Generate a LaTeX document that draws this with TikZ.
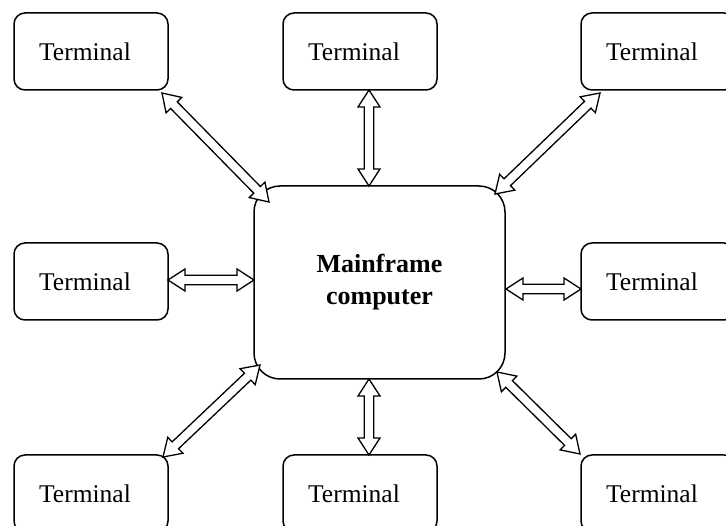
\documentclass[tikz,border=0pt]{standalone}
\usepackage{fontspec}
\setmainfont{Liberation Serif}
\usetikzlibrary{calc}
\tikzset{
  term/.style={draw, line width=1.5pt, rounded corners=11pt, minimum width=154pt, minimum height=77pt, inner sep=0pt, font=\fontsize{25.5}{30}\selectfont},
  mainbox/.style={draw, line width=1.5pt, rounded corners=26pt, minimum width=251pt, minimum height=193pt, inner sep=0pt, align=center, font=\fontsize{26}{32}\selectfont\bfseries},
  arr/.style={draw, line width=1.3pt, fill=white, line join=miter}
}
\newcommand\dblarrow[2]{%
  \draw[arr] (#1)
   -- ($(#1)!17pt!(#2)!11pt!90:(#2)$)
   -- ($(#1)!17pt!(#2)!4.7pt!90:(#2)$)
   -- ($(#2)!17pt!(#1)!4.7pt!-90:(#1)$)
   -- ($(#2)!17pt!(#1)!11pt!-90:(#1)$)
   -- (#2)
   -- ($(#2)!17pt!(#1)!11pt!90:(#1)$)
   -- ($(#2)!17pt!(#1)!4.7pt!90:(#1)$)
   -- ($(#1)!17pt!(#2)!4.7pt!-90:(#2)$)
   -- ($(#1)!17pt!(#2)!11pt!-90:(#2)$)
   -- cycle;}
\begin{document}
\begin{tikzpicture}[x=1pt,y=-1pt]
\clip (0,0) rectangle (726,526);
\fill[white] (0,0) rectangle (726,526);
\node[mainbox] (main) at (379.5,282.5) {Mainframe\\computer};
\node[term] (tl) at (91,51.5) {\hspace*{-12pt}Terminal};
\node[term] (tc) at (360,51.5) {\hspace*{-12pt}Terminal};
\node[term] (tr) at (658,51.5) {\hspace*{-12pt}Terminal};
\node[term] (ml) at (91,281.5) {\hspace*{-12pt}Terminal};
\node[term] (mr) at (658,281.5) {\hspace*{-12pt}Terminal};
\node[term] (bl) at (91,493.5) {\hspace*{-12pt}Terminal};
\node[term] (bc) at (360,493.5) {\hspace*{-12pt}Terminal};
\node[term] (br) at (658,493.5) {\hspace*{-12pt}Terminal};
% arrow end points
\coordinate (a1) at (162,93);   \coordinate (b1) at (269,202);
\coordinate (a2) at (369,90);   \coordinate (b2) at (369,186);
\coordinate (a3) at (600,93);   \coordinate (b3) at (495,194);
\coordinate (a4) at (168,280);  \coordinate (b4) at (254,280);
\coordinate (a5) at (581,289);  \coordinate (b5) at (506,289);
\coordinate (a6) at (163,457);  \coordinate (b6) at (260,365);
\coordinate (a7) at (369,455);  \coordinate (b7) at (369,379);
\coordinate (a8) at (580,454);  \coordinate (b8) at (497,372);
\dblarrow{a1}{b1}
\dblarrow{a2}{b2}
\dblarrow{a3}{b3}
\dblarrow{a4}{b4}
\dblarrow{a5}{b5}
\dblarrow{a6}{b6}
\dblarrow{a7}{b7}
\dblarrow{a8}{b8}
\end{tikzpicture}
\end{document}
